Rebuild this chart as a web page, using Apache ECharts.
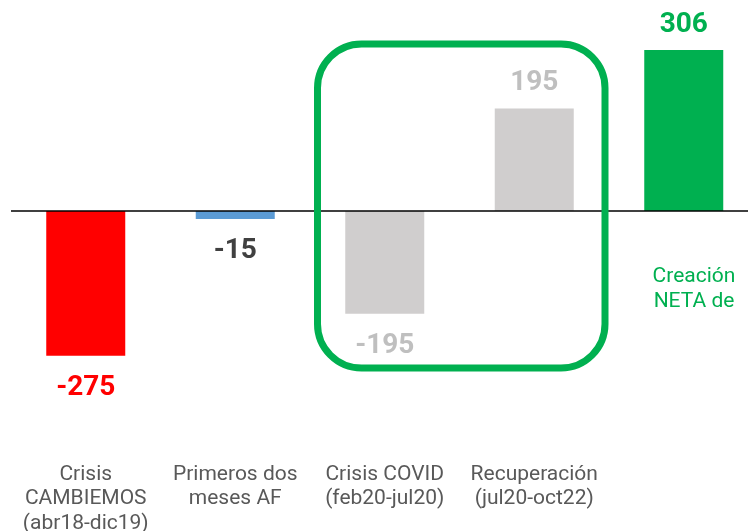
<!DOCTYPE html>
<html>
<head>
<meta charset="utf-8">
<script src="https://cdn.jsdelivr.net/npm/echarts@6/dist/echarts.min.js"></script>
<style>
  html, body { margin: 0; padding: 0; background: #fff; }
  #chart { width: 748px; height: 531px; }
</style>
</head>
<body>
<div id="chart"></div>
<script>
// datos del gráfico
var categorias = [
    'Crisis\nCAMBIEMOS\n(abr18-dic19)',
    'Primeros dos\nmeses AF',
    'Crisis COVID\n(feb20-jul20)',
    'Recuperación\n(jul20-oct22)',
    ''
];
var valores = [-275, -15, -195, 195, 306];
var coloresBarra = ['#ff0000', '#5b9bd5', '#d0cece', '#d0cece', '#00b050'];
var coloresEtiqueta = ['#ff0000', '#404040', '#bfbfbf', '#bfbfbf', '#00b050'];
var textoTotal = 'Creación\nNETA de';

var chart = echarts.init(document.getElementById('chart'));

var datos = valores.map(function (v, i) {
    return {
        value: v,
        itemStyle: { color: coloresBarra[i] },
        label: {
            position: v < 0 ? 'bottom' : 'top',
            distance: v < 0 ? 18 : 11,
            color: coloresEtiqueta[i]
        }
    };
});

chart.setOption({
    animation: false,
    grid: { left: 11, top: 26.9, width: 747.5, height: 368.3, outerBoundsMode: 'none' },
    xAxis: {
        type: 'category',
        data: categorias,
        axisLine: { show: false, onZero: false },
        axisTick: { show: false },
        axisLabel: {
            margin: 67,
            interval: 0,
            color: '#595959',
            fontFamily: 'Roboto',
            fontSize: 21,
            lineHeight: 24.5
        }
    },
    yAxis: {
        type: 'value',
        min: -350,
        max: 350,
        show: false,
        splitLine: { show: false }
    },
    graphic: [
        {
            type: 'rect',
            shape: { x: 317.5, y: 44, width: 287.5, height: 324, r: 44 },
            style: { fill: 'none', stroke: '#00b050', lineWidth: 7 },
            z: 10
        },
        {
            type: 'text',
            x: 694,
            y: 289,
            style: {
                text: textoTotal,
                fill: '#00b050',
                font: '21px Roboto',
                align: 'center',
                verticalAlign: 'middle',
                lineHeight: 24.5
            }
        }
    ],
    series: [{
        type: 'bar',
        data: datos,
        barWidth: 79,
        label: {
            show: true,
            fontFamily: 'Roboto',
            fontWeight: 'bold',
            fontSize: 28
        },
        markLine: {
            silent: true,
            symbol: 'none',
            label: { show: false },
            lineStyle: { color: '#000', width: 1.7, type: 'solid' },
            data: [{ yAxis: 0 }]
        }
    }]
});
</script>
</body>
</html>
